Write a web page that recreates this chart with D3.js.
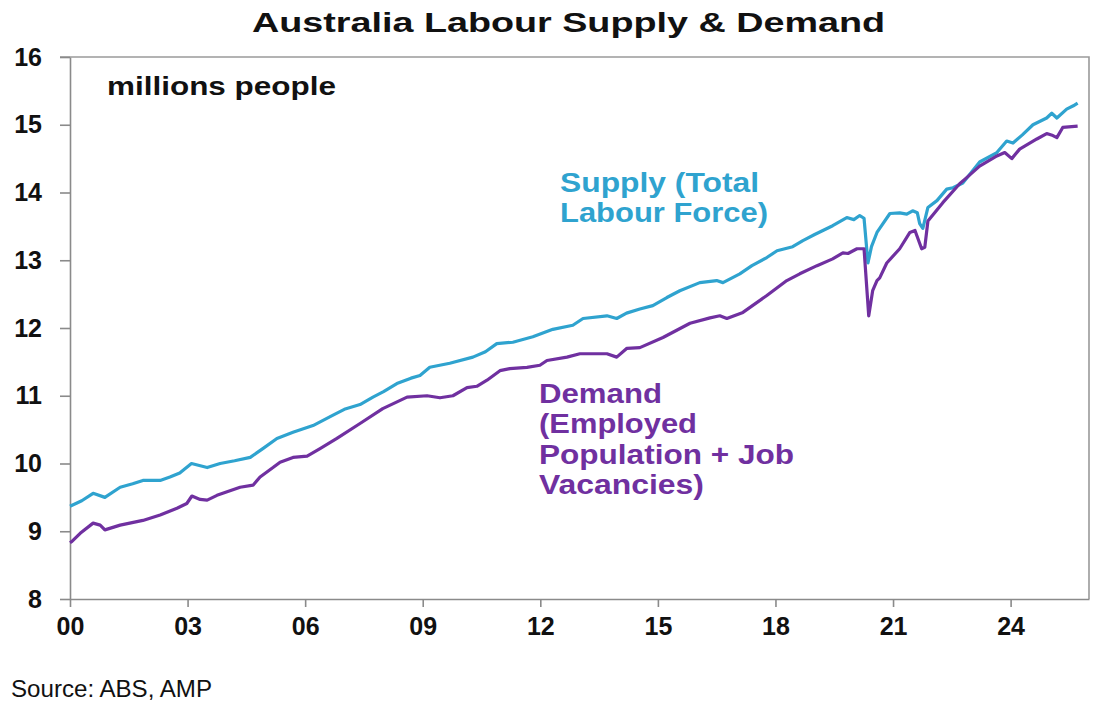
<!DOCTYPE html>
<html>
<head>
<meta charset="utf-8">
<script src="https://cdn.jsdelivr.net/npm/d3@7"></script>
<style>
  body { margin: 0; background: #fff; }
  svg { display: block; font-family: "Liberation Sans", Arial, sans-serif; }
  .axis path, .axis line { stroke: #8a8a8a; stroke-width: 1.6; }
  .axis text { font-weight: bold; font-size: 25px; fill: #111; }
</style>
</head>
<body>
<div id="chart"></div>
<script>
// Supply: total labour force (millions), decimal years
var supplyYears = [2000.00, 2000.30, 2000.59, 2000.89, 2001.28, 2001.60, 2001.86, 2002.30, 2002.55, 2002.80,
    2003.10, 2003.50, 2003.83, 2004.20, 2004.60, 2004.92, 2005.28, 2005.69, 2006.20, 2006.70,
    2007.00, 2007.40, 2007.73, 2008.00, 2008.34, 2008.70, 2008.93, 2009.18, 2009.69, 2010.28,
    2010.60, 2010.89, 2011.30, 2011.81, 2012.32, 2012.83, 2013.09, 2013.70, 2013.95, 2014.20,
    2014.54, 2014.87, 2015.23, 2015.56, 2016.07, 2016.50, 2016.66, 2017.09, 2017.40, 2017.78,
    2018.04, 2018.44, 2018.70, 2019.00, 2019.46, 2019.82, 2020.00, 2020.15, 2020.26, 2020.36,
    2020.45, 2020.59, 2020.66, 2020.92, 2021.17, 2021.35, 2021.50, 2021.62, 2021.68, 2021.76,
    2021.89, 2022.12, 2022.37, 2022.53, 2022.78, 2023.21, 2023.65, 2023.90, 2024.06, 2024.30,
    2024.57, 2024.92, 2025.05, 2025.18, 2025.43, 2025.60, 2025.71];
var supplyValues = [9.37, 9.45, 9.56, 9.50, 9.65, 9.70, 9.75, 9.75, 9.80, 9.86,
    10.00, 9.94, 10.00, 10.04, 10.09, 10.22, 10.37, 10.46, 10.56, 10.71,
    10.80, 10.87, 10.98, 11.06, 11.18, 11.26, 11.30, 11.42, 11.48, 11.57,
    11.65, 11.77, 11.79, 11.87, 11.98, 12.04, 12.14, 12.18, 12.14, 12.22,
    12.28, 12.33, 12.45, 12.55, 12.67, 12.70, 12.67, 12.80, 12.92, 13.04,
    13.14, 13.20, 13.29, 13.38, 13.51, 13.63, 13.60, 13.66, 13.62, 12.96,
    13.20, 13.41, 13.47, 13.69, 13.70, 13.68, 13.73, 13.70, 13.54, 13.47,
    13.78, 13.88, 14.05, 14.07, 14.14, 14.45, 14.59, 14.76, 14.73, 14.85,
    15.00, 15.10, 15.17, 15.10, 15.23, 15.28, 15.32];

// Demand: employed population + job vacancies (millions)
var demandYears = [2000.00, 2000.05, 2000.26, 2000.59, 2000.77, 2000.89, 2001.28, 2001.86, 2002.30, 2002.73,
    2002.98, 2003.11, 2003.32, 2003.50, 2003.75, 2004.34, 2004.67, 2004.85, 2005.18, 2005.36,
    2005.69, 2006.05, 2006.38, 2006.81, 2007.40, 2007.98, 2008.60, 2009.11, 2009.44, 2009.77,
    2010.13, 2010.38, 2010.64, 2010.97, 2011.22, 2011.66, 2011.99, 2012.17, 2012.68, 2013.01,
    2013.70, 2013.95, 2014.21, 2014.54, 2015.13, 2015.82, 2016.33, 2016.58, 2016.76, 2017.17,
    2017.78, 2018.29, 2018.62, 2019.06, 2019.46, 2019.72, 2019.85, 2020.08, 2020.26, 2020.38,
    2020.48, 2020.59, 2020.66, 2020.84, 2021.17, 2021.43, 2021.56, 2021.73, 2021.81, 2021.89,
    2022.27, 2022.70, 2022.88, 2023.21, 2023.65, 2023.85, 2024.03, 2024.23, 2024.67, 2024.92,
    2025.08, 2025.18, 2025.33, 2025.71];
var demandValues = [8.83, 8.85, 8.97, 9.12, 9.09, 9.02, 9.09, 9.16, 9.24, 9.34,
    9.41, 9.52, 9.47, 9.46, 9.53, 9.65, 9.68, 9.80, 9.94, 10.02,
    10.09, 10.11, 10.22, 10.37, 10.59, 10.81, 10.98, 11.00, 10.97, 11.00,
    11.12, 11.14, 11.23, 11.37, 11.40, 11.42, 11.45, 11.52, 11.57, 11.62,
    11.62, 11.57, 11.70, 11.71, 11.86, 12.07, 12.15, 12.18, 12.14, 12.23,
    12.48, 12.70, 12.80, 12.92, 13.02, 13.11, 13.10, 13.17, 13.17, 12.18,
    12.55, 12.70, 12.74, 12.96, 13.17, 13.41, 13.44, 13.17, 13.19, 13.58,
    13.85, 14.13, 14.22, 14.39, 14.54, 14.59, 14.50, 14.64, 14.79, 14.87,
    14.84, 14.81, 14.96, 14.98];

var xTicks = [2000, 2003, 2006, 2009, 2012, 2015, 2018, 2021, 2024];
var yTicks = [8, 9, 10, 11, 12, 13, 14, 15, 16];

var W = 1113, H = 716,
    plot = { left: 70, right: 1089, top: 57, bottom: 599 };

var svg = d3.select('#chart').append('svg')
            .attr('width', W)
            .attr('height', H);

var x = d3.scaleLinear().domain([2000, 2026]).range([plot.left, plot.right]),
    y = d3.scaleLinear().domain([8, 16]).range([plot.bottom, plot.top]);

// frame: top and right borders
svg.append('path')
   .attr('d', 'M' + (plot.left - 10) + ',' + y(16) + 'H' + x(2026) + 'V' + y(8))
   .attr('fill', 'none')
   .attr('stroke', '#9a9a9a')
   .attr('stroke-width', 1.6);

var yAxis = svg.append('g')
               .attr('class', 'axis')
               .attr('transform', 'translate(' + plot.left + ',0)')
               .call(d3.axisLeft(y).tickValues(yTicks).tickSize(10).tickSizeOuter(0).tickPadding(18).tickFormat(d3.format('d')));
yAxis.select('.domain').attr('stroke', '#777');

svg.append('g')
   .attr('class', 'axis')
   .attr('transform', 'translate(0,' + plot.bottom + ')')
   .call(d3.axisBottom(x).tickValues(xTicks).tickSize(8).tickSizeOuter(0).tickPadding(10)
           .tickFormat(function (d) { return d3.format('02d')(d - 2000); }));

var line = d3.line()
             .x(function (d) { return x(d[0]); })
             .y(function (d) { return y(d[1]); });

svg.append('path')
   .datum(d3.zip(supplyYears, supplyValues))
   .attr('fill', 'none')
   .attr('stroke', '#2fa3cf')
   .attr('stroke-width', 3.2)
   .attr('stroke-linejoin', 'round')
   .attr('d', line);

svg.append('path')
   .datum(d3.zip(demandYears, demandValues))
   .attr('fill', 'none')
   .attr('stroke', '#7030a0')
   .attr('stroke-width', 3.2)
   .attr('stroke-linejoin', 'round')
   .attr('d', line);

function label(txt, px, py, size, len, color, weight) {
    svg.append('text')
       .attr('x', px)
       .attr('y', py)
       .attr('font-size', size)
       .attr('font-weight', weight || 'bold')
       .attr('fill', color)
       .attr('textLength', len)
       .attr('lengthAdjust', 'spacingAndGlyphs')
       .text(txt);
}

label('Australia Labour Supply & Demand', 252, 32, 28, 633, '#111');
label('millions people', 107, 95, 26, 229, '#111');

label('Supply (Total', 560, 192, 27, 199, '#2fa3cf');
label('Labour Force)', 560, 222, 27, 208, '#2fa3cf');

label('Demand', 539, 403, 27, 123, '#7030a0');
label('(Employed', 539, 433, 27, 158, '#7030a0');
label('Population + Job', 539, 464, 27, 255, '#7030a0');
label('Vacancies)', 539, 494, 27, 165, '#7030a0');

label('Source: ABS, AMP', 11, 697, 24, 201, '#111', 'normal');
</script>
</body>
</html>
